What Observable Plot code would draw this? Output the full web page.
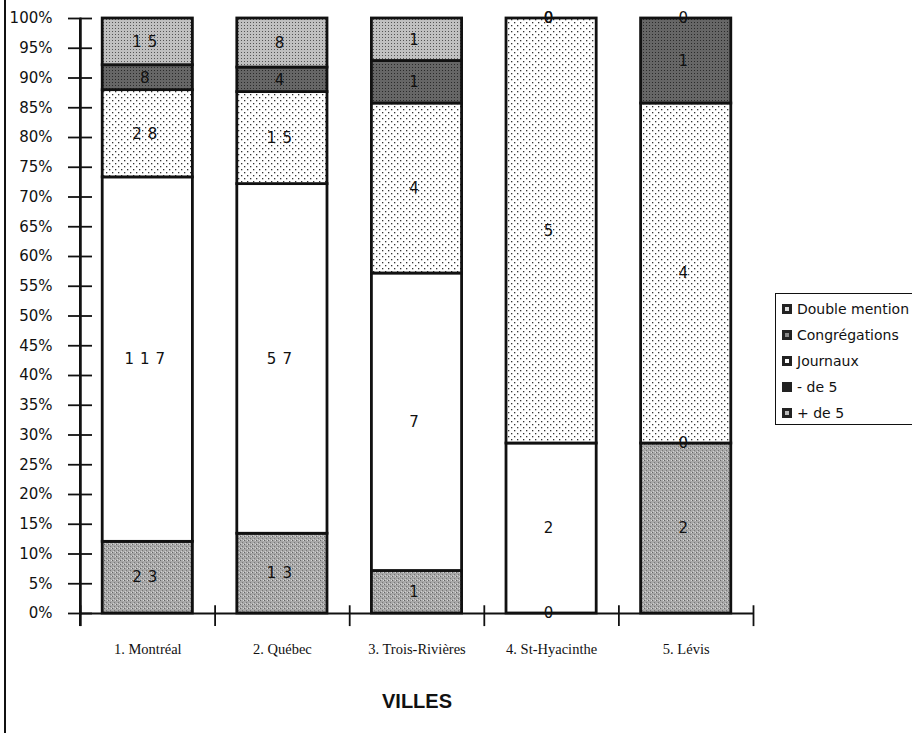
<!DOCTYPE html>
<html><head><meta charset="utf-8">
<script src="https://cdn.jsdelivr.net/npm/d3@7"></script>
<script src="https://cdn.jsdelivr.net/npm/@observablehq/plot@0.6"></script>
<style>
body{margin:0;background:#fff;}
#wrap{position:relative;width:912px;height:733px;overflow:hidden;background:#fff;}
#border{position:absolute;left:4px;top:0;width:2px;height:733px;background:#111;}
#yline{position:absolute;width:2px;background:#111;}
#legend{position:absolute;left:775px;top:293px;width:150px;height:132px;border:1.5px solid #111;font-family:"DejaVu Sans",sans-serif;font-size:14px;color:#111;box-sizing:border-box;}
.item{position:absolute;left:6px;height:16px;display:flex;align-items:center;white-space:nowrap;}
.sw{display:inline-block;width:10px;height:10px;background:#222;margin-right:5px;position:relative;}
.sw i{position:absolute;left:3px;top:3px;width:4px;height:4px;}
#chart svg .vals text{letter-spacing:6px;}
</style></head>
<body><div id="wrap"><div id="border"></div><div id="chart"></div><div id="yline"></div><div id="legend"></div></div>
<script>
const cities = ["1. Montréal", "2. Québec", "3. Trois-Rivières", "4. St-Hyacinthe", "5. Lévis"];
const series = ["+ de 5", "- de 5", "Journaux", "Congrégations", "Double mention"];
const plusDe5 = [23, 13, 1, 0, 2];
const moinsDe5 = [117, 57, 7, 2, 0];
const journaux = [28, 15, 4, 5, 4];
const congregations = [8, 4, 1, 0, 1];
const doubleMention = [15, 8, 1, 0, 0];
const yTicks = d3.range(0, 21).map(i => i / 20);
const legendOrder = ["Double mention", "Congrégations", "Journaux", "- de 5", "+ de 5"];

const valuesBySeries = [plusDe5, moinsDe5, journaux, congregations, doubleMention];
const table = [];
series.forEach((s, si) => cities.forEach((c, ci) => table.push({city: c, series: s, value: valuesBySeries[si][ci]})));

const W = 912, H = 733, ML = 80, MR = 159, MT = 18, MB = 120;
const PI = 0.33, PO = 0.165;
const step = (W - ML - MR) / cities.length;

const chart = Plot.plot({
  width: W, height: H,
  marginLeft: ML, marginRight: MR, marginTop: MT, marginBottom: MB,
  style: {background: "transparent", fontFamily: "DejaVu Sans, sans-serif", color: "#111", overflow: "visible"},
  x: {domain: cities, paddingInner: PI, paddingOuter: PO, round: false, label: null},
  y: {domain: [0, 1], label: null},
  color: {domain: series, range: series.map((s, i) => `url(#pat${i})`)},
  marks: [
    Plot.barY(table, Plot.stackY({x: "city", y: "value", fill: "series", order: series, offset: "normalize", stroke: "#111", strokeWidth: 2.8})),
    Plot.ruleY([0], {stroke: "#111", strokeWidth: 1.8}),
    Plot.ruleX(cities, {x: d => d, dx: -step / 2, y1: -0.022, y2: 0.013, stroke: "#111", strokeWidth: 1.8}),
    Plot.ruleX([cities[cities.length - 1]], {x: d => d, dx: step / 2, y1: -0.022, y2: 0.013, stroke: "#111", strokeWidth: 1.8}),
    Plot.axisY({ticks: yTicks, tickSize: 24, dx: 12, tickFormat: () => "", strokeWidth: 1.8, label: null}),
    Plot.axisY({ticks: yTicks, tickSize: 0, tickPadding: 28, tickFormat: d3.format(".0%"), fontSize: 15, label: null}),
    Plot.axisX({tickSize: 0, tickPadding: 30, fontFamily: "Liberation Serif, serif", fontSize: 14.5, label: null}),
    Plot.text(table, Plot.stackY({x: "city", y: "value", z: "series", order: series, offset: "normalize", text: d => String(d.value), fontSize: 15, fill: "#111", className: "vals"})),
    Plot.text(["VILLES"], {frameAnchor: "bottom", dy: 94, text: d => d, fontSize: 20, fontWeight: "bold", fontFamily: "Liberation Sans, Arial, sans-serif", fill: "#111"}),
    Plot.ruleX([cities[0]], {x: d => d, dx: -step / 2, y1: -0.022, y2: 1, stroke: "#111", strokeWidth: 2}),
    Plot.frame({anchor: "left", stroke: "#111", strokeWidth: 2})
  ]
});

// pattern definitions for the fills
const defs = `
<defs>
 <pattern id="pat0" width="4" height="4" patternUnits="userSpaceOnUse">
  <rect width="4" height="4" fill="#a8a8a8"/>
  <rect x="0" y="0" width="1" height="1" fill="#666"/>
  <rect x="2" y="2" width="1" height="1" fill="#777"/>
  <rect x="3" y="0" width="1" height="1" fill="#d8d8d8"/>
  <rect x="1" y="3" width="1" height="1" fill="#d0d0d0"/>
 </pattern>
 <pattern id="pat1" width="4" height="4" patternUnits="userSpaceOnUse">
  <rect width="4" height="4" fill="#fff"/>
 </pattern>
 <pattern id="pat2" width="6" height="6" patternUnits="userSpaceOnUse">
  <rect width="6" height="6" fill="#fff"/>
  <rect x="1" y="1" width="1.3" height="1.3" fill="#333"/>
  <rect x="4" y="4" width="1.3" height="1.3" fill="#333"/>
 </pattern>
 <pattern id="pat3" width="3" height="3" patternUnits="userSpaceOnUse">
  <rect width="3" height="3" fill="#666"/>
  <rect x="1" y="1" width="1" height="1" fill="#2a2a2a"/>
 </pattern>
 <pattern id="pat4" width="3" height="3" patternUnits="userSpaceOnUse">
  <rect width="3" height="3" fill="#c0c0c0"/>
  <rect x="1" y="1" width="1" height="1" fill="#555"/>
 </pattern>
</defs>`;
chart.insertAdjacentHTML("afterbegin", defs);
document.getElementById("chart").appendChild(chart);

// y-axis spine, positioned from the chart's own scales
const xs = chart.scale("x"), ys = chart.scale("y");
const spineX = xs.apply(cities[0]) - xs.step * PO;
const yl = document.getElementById("yline");
yl.style.left = (spineX - 1) + "px";
yl.style.top = ys.apply(1) + "px";
yl.style.height = (ys.apply(-0.022) - ys.apply(1)) + "px";

// legend
const leg = document.getElementById("legend");
const innerColors = {"Double mention": "#ddd", "Congrégations": "#888", "Journaux": "#fff", "- de 5": "#222", "+ de 5": "#bbb"};
legendOrder.forEach((s, i) => {
  const div = document.createElement("div");
  div.className = "item";
  div.style.top = (7 + i * 26) + "px";
  div.innerHTML = `<span class="sw"><i style="background:${innerColors[s]}"></i></span>${s}`;
  leg.appendChild(div);
});
</script></body></html>
